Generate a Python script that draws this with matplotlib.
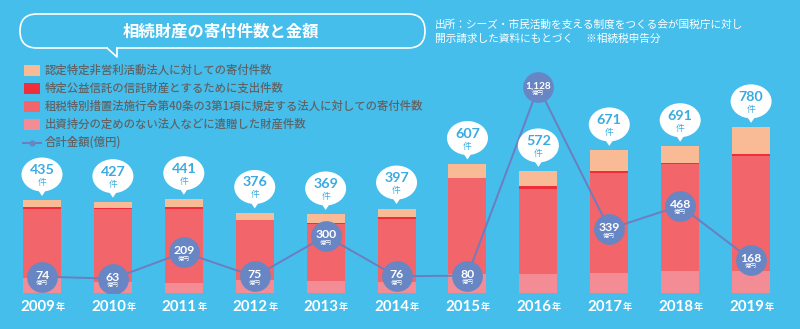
import matplotlib
matplotlib.use('Agg')
import matplotlib.pyplot as plt
from matplotlib.patches import Ellipse, Polygon, FancyBboxPatch, Rectangle
from matplotlib.lines import Line2D
from matplotlib.transforms import Affine2D, ScaledTranslation
import numpy as np

# ---------------- data ----------------
years = ['2009', '2010', '2011', '2012', '2013', '2014', '2015', '2016', '2017', '2018', '2019']
npo_counts = [31, 26, 38, 33, 39, 39, 64, 70, 97, 77, 125]          # 認定NPO
trust_counts = [11, 5, 8, 1, 7, 8, 3, 15, 8, 8, 11]                 # 特定公益信託
sochi_counts = [325, 345, 351, 284, 266, 299, 452, 400, 472, 502, 540]  # 租税特別措置法
bequest_counts = [68, 51, 44, 58, 57, 51, 88, 87, 94, 104, 104]     # 出資持分の定めのない法人
total_counts = [435, 427, 441, 376, 369, 397, 607, 572, 671, 691, 780]
amounts = [74, 63, 209, 75, 300, 76, 80, 1128, 339, 468, 168]       # 億円

legend_labels = ['認定特定非営利活動法人に対しての寄付件数',
                 '特定公益信託の信託財産とするために支出件数',
                 '租税特別措置法施行令第40条の3第1項に規定する法人に対しての寄付件数',
                 '出資持分の定めのない法人などに遺贈した財産件数',
                 '合計金額(億円)']
title = '相続財産の寄付件数と金額'
source_lines = ['出所：シーズ・市民活動を支える制度をつくる会が国税庁に対し',
                '開示請求した資料にもとづく　 ※相続税申告分']

# ---------------- style ----------------
BG = '#45BEEC'
C_NPO = '#F9BB95'
C_TRUST = '#EE2F3B'
C_SOCHI = '#F2656B'
C_BEQ = '#F48C96'
C_CIRC = '#6886C4'
C_LINE = '#6C7EBF'
C_NUM = '#3AABE0'
C_LEG = '#5F6366'
JP = ['Noto Sans CJK JP', 'DejaVu Sans']
NUMF = ['Lato', 'Noto Sans CJK JP', 'DejaVu Sans']

W, H = 800, 329
fig = plt.figure(figsize=(W / 100, H / 100), dpi=100, facecolor=BG)
# pixel transform, origin top-left
T = Affine2D().scale(1, -1).translate(0, H)

ax = fig.add_axes([6.55 / W, 36.3 / H, 780 / W, 292.7 / H])
ax.set_facecolor(BG)
ax.set_xlim(-0.5, 10.5)
ax.set_ylim(0, 292.7 / 0.212)
ax.axis('off')

x = np.arange(len(years))
bw = 0.536
b0 = np.zeros(len(years))
for vals, col in [(bequest_counts, C_BEQ), (sochi_counts, C_SOCHI),
                  (trust_counts, C_TRUST), (npo_counts, C_NPO)]:
    ax.bar(x, vals, bw, bottom=b0, color=col, linewidth=0, zorder=2)
    b0 = b0 + np.array(vals)

ax2 = ax.twinx()
ax2.set_ylim(-15, 1611)
ax2.axis('off')
ax2.plot(x, amounts, color=C_LINE, lw=1.4, zorder=3)
ax2.scatter(x, amounts, s=490, color=C_CIRC, zorder=4, linewidths=0)
for xi, v in zip(x, amounts):
    lab = f'{v:,}'
    fs = 8.8 if v < 1000 else 7.2
    ax2.annotate(lab, xy=(xi, v), xytext=(0, -2), textcoords='offset pixels',
                 ha='center', va='baseline', fontsize=fs, fontweight='bold',
                 color='white', family=NUMF, zorder=5)
    ax2.annotate('億円', xy=(xi, v), xytext=(0, -7), textcoords='offset pixels',
                 ha='center', va='center', fontsize=4.3, color='white',
                 family=JP, zorder=5)

# count bubbles
for xi, top, tot in zip(x, b0, total_counts):
    tr = Affine2D() + ScaledTranslation(xi, top, ax.transData)
    e = Ellipse((0, 26), 41, 34, transform=tr, facecolor='white', edgecolor='none',
                zorder=6, clip_on=False)
    p = Polygon([(-5, 12), (5, 12), (0, 4.5)], closed=True, transform=tr,
                facecolor='white', edgecolor='none', zorder=6, clip_on=False)
    ax2.add_artist(e)
    ax2.add_artist(p)
    ax2.annotate(f'{tot}', xy=(xi, top), xycoords=ax.transData, xytext=(0, 26.5),
                 textcoords='offset pixels', ha='center', va='baseline',
                 fontsize=10.3, fontweight='bold', color=C_NUM, family=NUMF, zorder=7)
    ax2.annotate('件', xy=(xi, top), xycoords=ax.transData, xytext=(0, 18),
                 textcoords='offset pixels', ha='center', va='center',
                 fontsize=6.3, color=C_NUM, family=JP, zorder=7)

# year labels
for xi, y in zip(x, years):
    ax.annotate(y, xy=(xi, 0), xytext=(13, -18), textcoords='offset pixels',
                ha='right', va='baseline', fontsize=10.8, fontweight='bold',
                color='white', family=NUMF, annotation_clip=False)
    ax.annotate('年', xy=(xi, 0), xytext=(13.5, -17), textcoords='offset pixels',
                ha='left', va='baseline', fontsize=6.6, fontweight='bold',
                color='white', family=JP, annotation_clip=False)

# title bubble
box = FancyBboxPatch((20, 14), 405, 34, boxstyle='round,pad=0,rounding_size=17',
                     transform=T, facecolor='none', edgecolor='white', lw=1.2)
fig.add_artist(box)
fig.add_artist(Rectangle((107.8, 46.0), 8.4, 4, transform=T, facecolor=BG,
                         edgecolor='none'))
fig.add_artist(Line2D([107, 117, 117], [48, 57, 48], transform=T, color='white',
                      lw=1.2))
fig.text(221, 31.5, title, transform=T, ha='center', va='center', fontsize=11.8,
         fontweight='bold', color='white', family=JP)

# source
for i, s in enumerate(source_lines):
    fig.text(435, 25 + i * 13.3, s, transform=T, ha='left', va='center',
             fontsize=7.7, color='white', family=JP)

# legend
leg_cols = [C_NPO, C_TRUST, C_SOCHI, C_BEQ]
rows = [70.3, 88.5, 106.6, 124.6, 142.5]
for i, lab in enumerate(legend_labels):
    yc = rows[i]
    if i < 4:
        fig.add_artist(Rectangle((24, yc - 5.3), 16, 10.6, transform=T,
                                 facecolor=leg_cols[i], edgecolor='none'))
    else:
        fig.add_artist(Line2D([23, 41], [yc, yc], transform=T, color=C_LINE, lw=1.4))
        fig.add_artist(Line2D([32], [yc], transform=T, color=C_CIRC, marker='o',
                              markersize=4.5, markeredgewidth=0))
    fig.text(45, yc, lab, transform=T, ha='left', va='center', fontsize=8.2,
             color=C_LEG, family=JP, fontweight='medium')

fig.savefig('out.png', dpi=100, facecolor=BG)
